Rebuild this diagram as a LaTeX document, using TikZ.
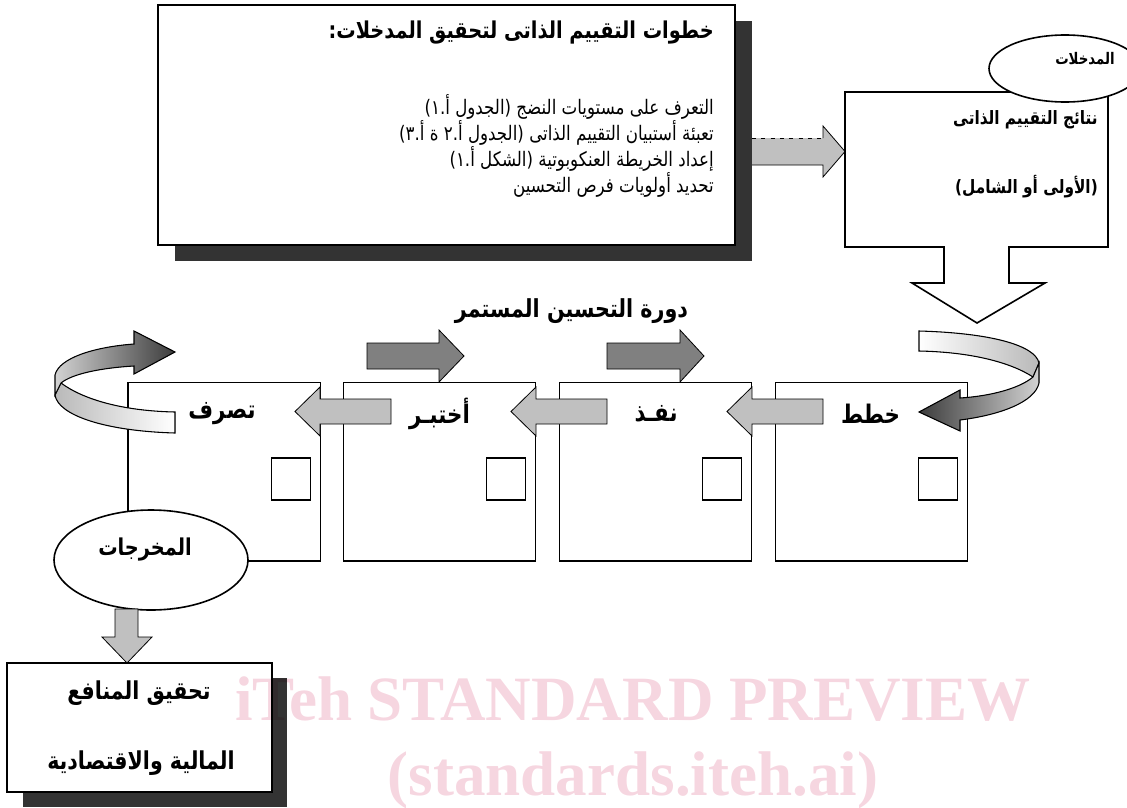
\documentclass[tikz,border=0pt]{standalone}
\usepackage{fontspec}
\usepackage{graphicx}
\TeXXeTstate=1
\newfontfamily\arabicfont[Script=Arabic]{DejaVu Sans}
\newfontfamily\wmfont{Liberation Serif}
\newcommand{\RTL}[1]{\scalebox{1}[1.2]{\beginR #1\endR}}
\definecolor{lgray}{HTML}{C0C0C0}
\definecolor{mgray}{HTML}{808080}
\definecolor{shadowc}{HTML}{333333}
\definecolor{wmpink}{RGB}{246,214,224}
\definecolor{curldark}{HTML}{3C3C3C}
\tikzset{
  ar/.style={font=\arabicfont\fontsize{#1}{14}\selectfont, inner sep=0pt},
  ar/.default=12.5,
  arb/.style={font=\arabicfont\bfseries\fontsize{#1}{14}\selectfont, inner sep=0pt},
  arb/.default=12,
  garrow/.style={fill=lgray, draw=black, line width=0.6pt},
  darrow/.style={fill=mgray, draw=black, line width=0.6pt},
  cyclebox/.style={draw=black, line width=1pt, fill=white, minimum width=144.4pt, minimum height=134pt, inner sep=0pt},
  sqbox/.style={draw=black, line width=0.9pt, fill=white},
  curlline/.style={draw=black, line width=0.8pt},
  mainbox/.style={draw=black, line width=1.2pt, fill=white},
  wm/.style={font=\wmfont\bfseries\fontsize{47.3}{50}\selectfont, text=wmpink, inner sep=0pt, anchor=base}
}
\begin{document}
\begin{tikzpicture}[x=0.75pt,y=-0.75pt,line join=miter]
\useasboundingbox (0,0) rectangle (1127,807);

% ---------- top box ----------
\fill[shadowc] (175,21) rectangle (752,261);
\draw[mainbox] (158,5) rectangle (735,245);
\node[arb=14.5, anchor=east] (title) at (714,33) {\RTL{خطوات التقييم الذاتى لتحقيق المدخلات:}};
\node[ar, anchor=east] (l1) at (714,107) {\RTL{التعرف على مستويات النضج (الجدول أ.١)}};
\node[ar, anchor=east] (l2) at (714,133) {\RTL{تعبئة أستبيان التقييم الذاتى (الجدول أ.٢ ة أ.٣)}};
\node[ar, anchor=east] (l3) at (714,159) {\RTL{إعداد الخريطة العنكوبوتية (الشكل أ.١)}};
\node[ar, anchor=east] (l4) at (714,185) {\RTL{تحديد أولويات فرص التحسين}};

% ---------- arrow into results ----------
\fill[lgray] (752,138) -- (823,138) -- (823,126) -- (845,151.5) -- (823,177) -- (823,165) -- (752,165) -- cycle;
\draw[line width=0.6pt] (823,138) -- (823,126) -- (845,151.5) -- (823,177) -- (823,165) -- (752,165);
\draw[line width=0.6pt, dash pattern=on 3pt off 4pt] (752,138) -- (823,138);

% ---------- results callout ----------
\draw[mainbox] (845,92) -- (1108,92) -- (1108,247) -- (1009,247) -- (1009,283) -- (1045,283) -- (977,323) -- (912,283) -- (944,283) -- (944,247) -- (845,247) -- cycle;
\node[arb=11.5, anchor=east] (res1) at (1098,120) {\RTL{نتائج التقييم الذاتى}};
\node[arb=11.5, anchor=east] (res2) at (1098,187) {\RTL{(الأولى أو الشامل)}};
\draw[mainbox] (1065,68.5) ellipse [x radius=76, y radius=33.5];
\node[arb=10] (inputs) at (1085,59) {\RTL{المدخلات}};

% ---------- cycle title and dark arrows ----------
\node[arb=15.5] (cyctitle) at (571.5,311) {\RTL{دورة التحسين المستمر}};
\filldraw[darrow] (367,343) -- (439,343) -- (439,330) -- (464,356) -- (439,382) -- (439,369) -- (367,369) -- cycle;
\filldraw[darrow] (607,343) -- (680,343) -- (680,330) -- (704,356) -- (680,382) -- (680,369) -- (607,369) -- cycle;

% ---------- PDCA boxes ----------
\node[cyclebox] (act) at (224.25,471.5) {};
\node[cyclebox] (check) at (439.5,471.5) {};
\node[cyclebox] (do) at (655.5,471.5) {};
\node[cyclebox] (plan) at (871.5,471.5) {};
\foreach \r in {320.25,535.75,751.75,967.75}{
  \draw[sqbox] (\r-49,458) rectangle (\r-10,500);
}
\foreach \b in {320,536,752}{
  \filldraw[garrow] (\b+71,399) -- (\b,399) -- (\b,387) -- (\b-25,411.5) -- (\b,436) -- (\b,424) -- (\b+71,424) -- cycle;
}
\node[arb=16] (actl) at (222,414) {\RTL{تصرف}};
\node[arb=16] (checkl) at (439.5,414) {\RTL{أختبـر}};
\node[arb=16] (dol) at (656,414) {\RTL{نفـذ}};
\node[arb=16] (planl) at (870.5,414) {\RTL{خطط}};

% ---------- curled arrow right ----------
\filldraw[curlline, left color=white, right color=gray!55]
  (919,331) .. controls (990,333) and (1035,345) .. (1039,363) -- (1033,377)
  .. controls (1010,362) and (970,352) .. (919,351) -- cycle;
\filldraw[curlline, left color=curldark, right color=gray!35]
  (1039,363) -- (1039,383) .. controls (1035,402) and (1000,415) .. (960,420)
  -- (960,431) -- (919,412) -- (960,390) -- (960,398)
  .. controls (992,396) and (1020,388) .. (1033,377) -- cycle;

% ---------- curled arrow left ----------
\filldraw[curlline, left color=gray!55, right color=white]
  (175,433) .. controls (104,431) and (58,415) .. (55,395) -- (61,383)
  .. controls (84,400) and (124,411) .. (175,412) -- cycle;
\filldraw[curlline, left color=gray!35, right color=curldark]
  (55,395) -- (55,375) .. controls (59,358) and (94,347) .. (134,344)
  -- (134,331) -- (175,352) -- (134,374) -- (134,366)
  .. controls (100,368) and (72,374) .. (61,383) -- cycle;

% ---------- outputs ----------
\draw[mainbox] (151,560) ellipse [x radius=97, y radius=50];
\node[arb=14.5] (outputs) at (145,550) {\RTL{المخرجات}};
\filldraw[garrow] (115,609) -- (138,609) -- (138,637) -- (152,637) -- (127,663) -- (102,637) -- (115,637) -- cycle;

\fill[shadowc] (23,678) rectangle (287,807);
\draw[mainbox] (7,663) rectangle (272,792);
\node[arb=15.4, anchor=east] (ben1) at (211,693) {\RTL{تحقيق المنافع}};
\node[arb=15.4, anchor=east] (ben2) at (235,763) {\RTL{المالية والاقتصادية}};

% ---------- watermark ----------
\begin{scope}[blend mode=multiply]
\node[wm] (wm1) at (633,720) {iTeh STANDARD PREVIEW};
\node[wm] (wm2) at (633,795) {(standards.iteh.ai)};
\end{scope}
\end{tikzpicture}
\end{document}
